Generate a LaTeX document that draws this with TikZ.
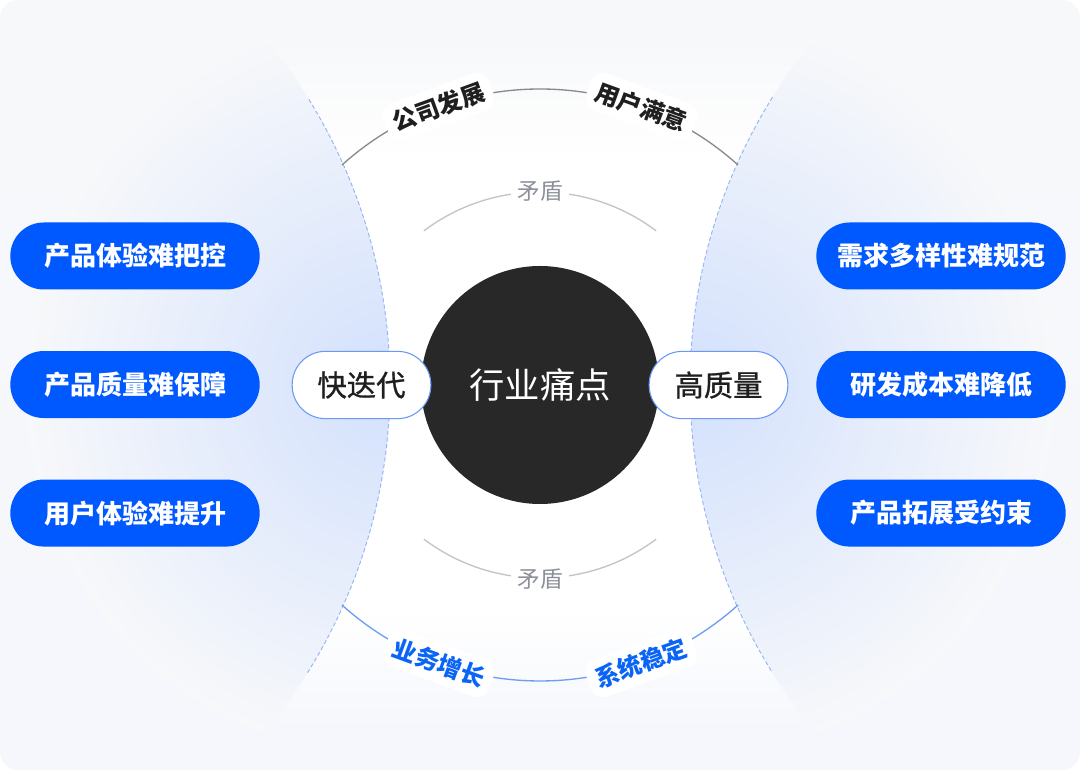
\documentclass[tikz,border=0pt]{standalone}
\usepackage{fontspec}
\setmainfont{Noto Sans CJK SC}
\newfontfamily\midfont[FakeBold=0.9]{Noto Sans CJK SC}
\usetikzlibrary{positioning}
\definecolor{Canvas}{HTML}{F7F8FA}
\definecolor{CanvasLow}{HTML}{F5F7FC}
\definecolor{Glow}{HTML}{D3E1FD}
\definecolor{Brand}{HTML}{0058FF}
\definecolor{BrandText}{HTML}{0A64F5}
\definecolor{Dash}{HTML}{93B4F8}
\definecolor{Ink}{HTML}{1F1F1F}
\definecolor{Core}{HTML}{282828}
\definecolor{ArcGray}{HTML}{8A8A8A}
\definecolor{ArcBlue}{HTML}{6F9DF6}
\definecolor{Soft}{HTML}{C4C4C4}
\definecolor{Mute}{HTML}{8C9099}
\definecolor{Edge}{HTML}{6C99F6}

\begin{document}
\begin{tikzpicture}[x=0.75pt,y=0.75pt,
  pain/.style={fill=Brand,rounded corners=25pt,minimum width=187pt,minimum height=50.25pt,text=white,font=\bfseries\fontsize{19.5}{20}\selectfont},
  aim/.style={draw=Edge,line width=0.8pt,fill=white,rounded corners=25pt,minimum width=104pt,minimum height=50.5pt,text=Ink,font=\midfont\fontsize{22}{22}\selectfont},
  tag/.style={fill=white,rounded corners=9pt,inner sep=6pt,font=\bfseries\fontsize{18}{18}\selectfont},
  clash/.style={fill=white,inner sep=5pt,text=Mute,font=\fontsize{17}{17}\selectfont},
  core/.style={circle,fill=Core,minimum size=178.5pt,text=white,font=\fontsize{26.5}{27}\selectfont}
]
  \useasboundingbox (0,0) rectangle (1080,770);
  \begin{scope}
    \clip[rounded corners=14pt] (0,0) rectangle (1080,770);
    \shade[top color=Canvas,bottom color=CanvasLow] (0,0) rectangle (1080,770);
    \fill[white] (240,160) rectangle (840,610);
    \shade[top color=Canvas,bottom color=white] (240,610) rectangle (840,730);
    \shade[top color=white,bottom color=CanvasLow] (240,40) rectangle (840,160);
    \begin{scope}
      \clip (-153,385) circle (543);
      \shade[top color=Canvas,bottom color=CanvasLow] (-10,0) rectangle (400,770);
      \shade[inner color=Glow,outer color=Canvas] (385,385) ellipse (360 and 370);
    \end{scope}
    \begin{scope}
      \clip (1233,385) circle (543);
      \shade[top color=Canvas,bottom color=CanvasLow] (680,0) rectangle (1090,770);
      \shade[inner color=Glow,outer color=Canvas] (695,385) ellipse (360 and 370);
    \end{scope}
  \end{scope}

  \draw[Dash,line width=0.7pt,dash pattern=on 3pt off 2pt] ([shift={(-153,385)}]-32:543) arc (-32:32:543);
  \draw[Dash,line width=0.7pt,dash pattern=on 3pt off 2pt] ([shift={(1233,385)}]148:543) arc (148:212:543);

  \begin{scope}[shift={(540,385)}]
    \draw[ArcGray,line width=1pt] (48:296) arc (48:132:296);
    \draw[ArcBlue,line width=1pt] (-132:296) arc (-132:-48:296);
    \draw[Soft,line width=1pt] (53:193) arc (53:127:193);
    \draw[Soft,line width=1pt] (-127:193) arc (-127:-53:193);
    \node[tag,text=Ink,rotate=20] (growth) at (110:296) {公司发展};
    \node[tag,text=Ink,rotate=-20] (users) at (70:296) {用户满意};
    \node[tag,text=BrandText,rotate=-20] (business) at (250:296) {业务增长};
    \node[tag,text=BrandText,rotate=20] (stable) at (290:296) {系统稳定};
    \node[clash] (clashtop) at (90:194) {矛盾};
    \node[clash] (clashbot) at (-90:194) {矛盾};
  \end{scope}

  \node[core] (pain) at (540,385) {行业痛点};
  \node[aim] (fast) at (361.5,385) {快迭代};
  \node[aim] (good) at (718.5,385) {高质量};

  \node[pain] (ux) at (135,514) {产品体验难把控};
  \node[pain,below=45.75pt of ux] (quality) {产品质量难保障};
  \node[pain,below=45.75pt of quality] (lift) {用户体验难提升};
  \node[pain] (needs) at (941,514) {需求多样性难规范};
  \node[pain,below=45.75pt of needs] (cost) {研发成本难降低};
  \node[pain,below=45.75pt of cost] (scale) {产品拓展受约束};
\end{tikzpicture}
\end{document}
